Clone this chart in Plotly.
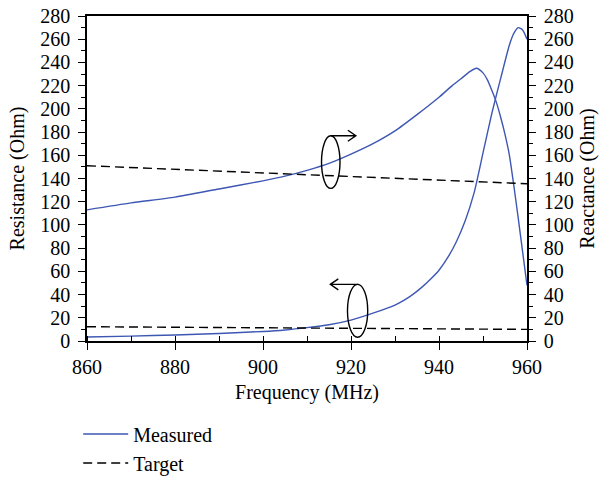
import plotly.graph_objects as go

# ---------------- data ----------------
freq_r = [860, 870, 880, 890, 900, 905, 910, 915, 920, 925, 930, 932, 934, 936, 938, 940,
          942, 944, 946, 948, 950, 952, 954, 956, 957, 958, 959, 960]
resistance = [3.5, 4.2, 5.2, 6.5, 8.2, 9.5, 11.5, 14, 18, 24, 31, 35, 40, 46, 53, 61,
              72, 86, 104, 128, 162, 196, 226, 255, 265, 270, 268, 260]

freq_x = [860, 870, 880, 890, 900, 905, 910, 915, 920, 925, 930, 935, 940, 943,
          945, 947, 948.5, 950, 951, 952, 953, 954, 955, 956, 957, 958, 959, 960]
reactance = [113, 119, 124, 131, 138, 142, 147, 153, 161, 170, 181, 195, 210, 220,
             226, 232, 235, 231, 225, 216, 206, 193, 178, 160, 134, 106, 77, 48]

freq_t = [860, 960]
target_r = [12.3, 10.0]
target_x = [151, 135.5]

x_ticks = [860, 880, 900, 920, 940, 960]
y_ticks = list(range(0, 281, 20))

# annotation geometry (data units): ellipses and arrows
ell_x = dict(x0=913.3, x1=917.5, y0=131.5, y1=176.8)   # reactance marker
arr_x = dict(xs=915.4, xe=921.1, y=176.8)
ell_r = dict(x0=919.2, x1=923.8, y0=3.2, y1=48.8)      # resistance marker
arr_r = dict(xs=921.7, xe=915.3, y=48.8)

BLUE = "#3d57b3"
FONT = "Liberation Serif"
TICK_SIZE = 20
TITLE_SIZE = 20
LEGEND_SIZE = 20

fig = go.Figure()
fig.add_trace(go.Scatter(x=freq_r, y=resistance, mode="lines", name="Measured",
                         line=dict(color=BLUE, width=1.4, shape="spline", smoothing=0.6),
                         showlegend=True))
fig.add_trace(go.Scatter(x=freq_x, y=reactance, mode="lines", name="Measured",
                         line=dict(color=BLUE, width=1.4, shape="spline", smoothing=0.6),
                         showlegend=False, yaxis="y2"))
fig.add_trace(go.Scatter(x=freq_t, y=target_r, mode="lines", name="Target",
                         line=dict(color="black", width=1.4, dash="9px,5px"),
                         showlegend=True))
fig.add_trace(go.Scatter(x=freq_t, y=target_x, mode="lines", name="Target",
                         line=dict(color="black", width=1.4, dash="9px,5px"),
                         showlegend=False, yaxis="y2"))

# ellipses
for e in (ell_x, ell_r):
    fig.add_shape(type="circle", xref="x", yref="y", x0=e["x0"], x1=e["x1"],
                  y0=e["y0"], y1=e["y1"], line=dict(color="black", width=1.4))

# arrows (open chevron heads)
px_per_mhz = 4.4
px_per_ohm = 1.161
def arrow(a):
    d = 1 if a["xe"] > a["xs"] else -1
    wx = 8 / px_per_mhz
    wy = 5.5 / px_per_ohm
    path = (f"M {a['xs']},{a['y']} L {a['xe']},{a['y']} "
            f"M {a['xe'] - d*wx},{a['y'] + wy} L {a['xe']},{a['y']} L {a['xe'] - d*wx},{a['y'] - wy}")
    fig.add_shape(type="path", xref="x", yref="y", path=path,
                  line=dict(color="black", width=1.4))
arrow(arr_x)
arrow(arr_r)

axis_common = dict(showline=True, linecolor="black", linewidth=1.5,
                   showgrid=False, zeroline=False, ticks="outside", ticklen=7,
                   tickwidth=1.3, tickcolor="black", automargin=False,
                   tickfont=dict(family=FONT, size=TICK_SIZE, color="black"))

fig.update_layout(
    width=599, height=477,
    margin=dict(l=87, r=72, t=16, b=136, autoexpand=False),
    paper_bgcolor="white", plot_bgcolor="white",
    font=dict(family=FONT, size=TITLE_SIZE, color="black"),
    xaxis=dict(range=[860, 960], tickvals=x_ticks, mirror=True,
               minor=dict(dtick=10, ticks="inside", ticklen=5, tickcolor="black", tickwidth=1.2),
               title=dict(text="Frequency (MHz)", font=dict(family=FONT, size=TITLE_SIZE), standoff=8),
               **axis_common),
    yaxis=dict(range=[0, 280], tickvals=y_ticks, ticklabelstandoff=4,
               minor=dict(dtick=10, ticks="outside", ticklen=4, tickcolor="black", tickwidth=1.2),
               title=dict(text="Resistance (Ohm)", font=dict(family=FONT, size=TITLE_SIZE), standoff=10),
               **axis_common),
    yaxis2=dict(range=[0, 280], tickvals=y_ticks, overlaying="y", side="right",
                ticklabelstandoff=4,
                minor=dict(dtick=10, ticks="outside", ticklen=4, tickcolor="black", tickwidth=1.2),
                title=dict(text="Reactance (Ohm)", font=dict(family=FONT, size=TITLE_SIZE), standoff=10),
                **axis_common),
    legend=dict(x=-0.02, y=-0.226, xanchor="left", yanchor="top", itemwidth=45,
                bgcolor="rgba(0,0,0,0)", font=dict(family=FONT, size=LEGEND_SIZE),
                tracegroupgap=0),
)

fig.write_html("out.html")
